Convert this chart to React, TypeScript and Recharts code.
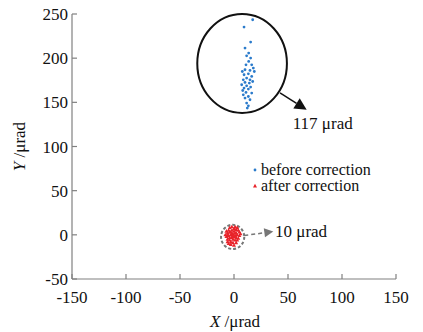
import {
  ReferenceArea,
  ReferenceDot,
  ReferenceLine,
  Scatter,
  ScatterChart,
  XAxis,
  YAxis,
} from "recharts";

// 校正前（青）— x, y は μrad
const BEFORE_X = [17.3, 9.3, 15.4, 10.2, 13.6, 11.7, 15.4, 13.6, 16.4, 11.1, 17.9, 7.7, 10.2, 14.8, 18.8, 9.3, 13.3, 16.4, 11.7, 14.8, 8.6, 10.2, 14.2, 17.3, 7.1, 11.7, 15.4, 9.3, 13.3, 8.1, 11.1, 16.4, 8.6, 13.3, 10.2, 14.8, 11.7, 13.3, 12.3];
const BEFORE_Y = [243.5, 235.2, 218.2, 211.4, 205.8, 202.7, 200.1, 196.3, 192.5, 192.5, 188.8, 184.9, 186.9, 186.1, 184.9, 181.2, 182.3, 179.3, 177.5, 175.5, 175.5, 172.5, 171.8, 173.6, 169.9, 168.7, 167.3, 166.1, 165, 163.4, 161.2, 160.5, 158.5, 156.6, 154.8, 152.9, 149.2, 146.1, 143.5];

// 校正後（赤）
const AFTER_X = [-6, -5, -4, -3, -2, -1, 0, 1, 2, 3, 4, 5, -7, -6, -4, -3, -1, 0, 1, 2, 3, -2, -5, -8, -7, -3, -1, 0, 2, 4, 5, 6, -4, -2, 1, 0, -6, -5, 3, -2, -1, 1, -3, 2, -4, -6];
const AFTER_Y = [2, -1, 3, 0, -3, 1, 4, 2, 6, 8, 5, 3, -2, -5, -6, -8, -5, -2, -6, -3, 0, 5, 5, 0, 4, -11, -9, -12, -9, -4, -1, 1, 8, 9, 9, 7, -8, -10, -6, 1, -1, -1, 3, 2, -3, 0];

const X_TICKS = [-150, -100, -50, 0, 50, 100, 150];
const Y_TICKS = [-50, 0, 50, 100, 150, 200, 250];

const before = BEFORE_X.map((x, i) => ({ x, y: BEFORE_Y[i] }));
const after = AFTER_X.map((x, i) => ({ x, y: AFTER_Y[i] }));

const BLUE = "#2b7bcb";
const RED = "#e8232a";
const AXIS = "#808080";
const FONT = "'Liberation Serif', 'Times New Roman', 'DejaVu Serif', serif";

const dot = (p: any) => <circle cx={p.cx} cy={p.cy} r={1.4} fill={BLUE} />;
const tri = (p: any) => (
  <polygon
    points={`${p.cx},${p.cy - 2.2} ${p.cx - 2},${p.cy + 1.4} ${p.cx + 2},${p.cy + 1.4}`}
    fill={RED}
  />
);

const ring =
  (stroke: string, dash?: string) =>
  (p: any) => (
    <ellipse
      cx={p.x + p.width / 2}
      cy={p.y + p.height / 2}
      rx={p.width / 2}
      ry={p.height / 2}
      fill="none"
      stroke={stroke}
      strokeWidth={2}
      strokeDasharray={dash}
    />
  );

const arrow =
  (color: string, len: number, half: number, dash?: string) =>
  (p: any) => {
    const { x1, y1, x2, y2 } = p;
    const dx = x2 - x1;
    const dy = y2 - y1;
    const d = Math.hypot(dx, dy) || 1;
    const ux = dx / d;
    const uy = dy / d;
    const bx = x2 - ux * len;
    const by = y2 - uy * len;
    return (
      <g>
        <line x1={x1} y1={y1} x2={bx} y2={by} stroke={color} strokeWidth={1.5} strokeDasharray={dash} />
        <polygon
          points={`${x2},${y2} ${bx - uy * half},${by + ux * half} ${bx + uy * half},${by - ux * half}`}
          fill={color}
        />
      </g>
    );
  };

const tickStyle = { fontSize: 17, fill: "#111" };

export default function App() {
  return (
    <div
      style={{
        position: "absolute",
        left: 0,
        top: 0,
        width: 423,
        height: 332,
        background: "#fff",
        fontFamily: FONT,
      }}
    >
      <ScatterChart
        width={423}
        height={332}
        margin={{ top: 14, right: 27, bottom: 0, left: 0 }}
        style={{ fontFamily: FONT }}
      >
        <XAxis
          type="number"
          dataKey="x"
          domain={[-150, 150]}
          ticks={X_TICKS}
          allowDataOverflow
          height={53}
          stroke={AXIS}
          strokeWidth={1.2}
          tickSize={-5}
          tickMargin={17}
          tick={tickStyle}
          label={{
            content: (p: any) => {
              const vb = p.viewBox;
              return (
                <text x={vb.x + vb.width / 2 + 1} y={vb.y + 48} textAnchor="middle" fontSize={17} fill="#111">
                  <tspan fontStyle="italic">X</tspan>
                  <tspan> /μrad</tspan>
                </text>
              );
            },
          }}
        />
        <XAxis xAxisId="top" orientation="top" type="number" domain={[-150, 150]} height={0} stroke={AXIS} strokeWidth={1.2} tick={false} tickLine={false} />
        <YAxis
          type="number"
          dataKey="y"
          domain={[-50, 250]}
          ticks={Y_TICKS}
          allowDataOverflow
          width={72}
          stroke={AXIS}
          strokeWidth={1.2}
          tickSize={-5}
          tickMargin={9}
          tick={tickStyle}
          label={{
            content: (p: any) => {
              const vb = p.viewBox;
              const cx = 19;
              const cy = vb.y + vb.height / 2;
              return (
                <text
                  x={cx}
                  y={cy}
                  transform={`rotate(-90 ${cx} ${cy})`}
                  textAnchor="middle"
                  dominantBaseline="central"
                  fontSize={17}
                  fill="#111"
                >
                  <tspan fontStyle="italic">Y</tspan>
                  <tspan> /μrad</tspan>
                </text>
              );
            },
          }}
        />
        <YAxis yAxisId="right" orientation="right" type="number" domain={[-50, 250]} width={0} stroke={AXIS} strokeWidth={1.2} tick={false} tickLine={false} />
        <Scatter name="before correction" data={before} shape={dot} isAnimationActive={false} />
        <Scatter name="after correction" data={after} shape={tri} isAnimationActive={false} />
        <ReferenceArea x1={-34} x2={49} y1={138} y2={250} ifOverflow="visible" shape={ring("#111")} />
        <ReferenceArea x1={-12} x2={9.5} y1={-16} y2={11.3} ifOverflow="visible" shape={ring("#777", "3 2")} />
        <ReferenceLine
          segment={[{ x: 42.6, y: 160.6 }, { x: 67.3, y: 141.6 }]}
          ifOverflow="visible"
          shape={arrow("#111", 12, 6)}
        />
        <ReferenceLine
          segment={[{ x: 9.5, y: -0.8 }, { x: 36.4, y: 3.7 }]}
          ifOverflow="visible"
          shape={arrow("#777", 9, 4.5, "4 3")}
        />
        <ReferenceDot
          x={54.4}
          y={126.8}
          r={0}
          ifOverflow="visible"
          label={{ value: "117 μrad", position: "right", offset: 0, fontSize: 17, fill: "#111" }}
        />
        <ReferenceDot
          x={38}
          y={4.5}
          r={0}
          ifOverflow="visible"
          label={{ value: "10 μrad", position: "right", offset: 0, fontSize: 17, fill: "#111" }}
        />
      </ScatterChart>
      <div
        style={{
          position: "absolute",
          left: 251,
          top: 162,
          fontSize: 16,
          lineHeight: "16px",
          color: "#111",
        }}
      >
        <div style={{ display: "flex", alignItems: "center" }}>
          <svg width={10} height={10}>
            <circle cx={4} cy={5} r={1.4} fill={BLUE} />
          </svg>
          <span>before correction</span>
        </div>
        <div style={{ display: "flex", alignItems: "center" }}>
          <svg width={10} height={10}>
            <polygon points="4,2.8 2,6.4 6,6.4" fill={RED} />
          </svg>
          <span>after correction</span>
        </div>
      </div>
    </div>
  );
}
